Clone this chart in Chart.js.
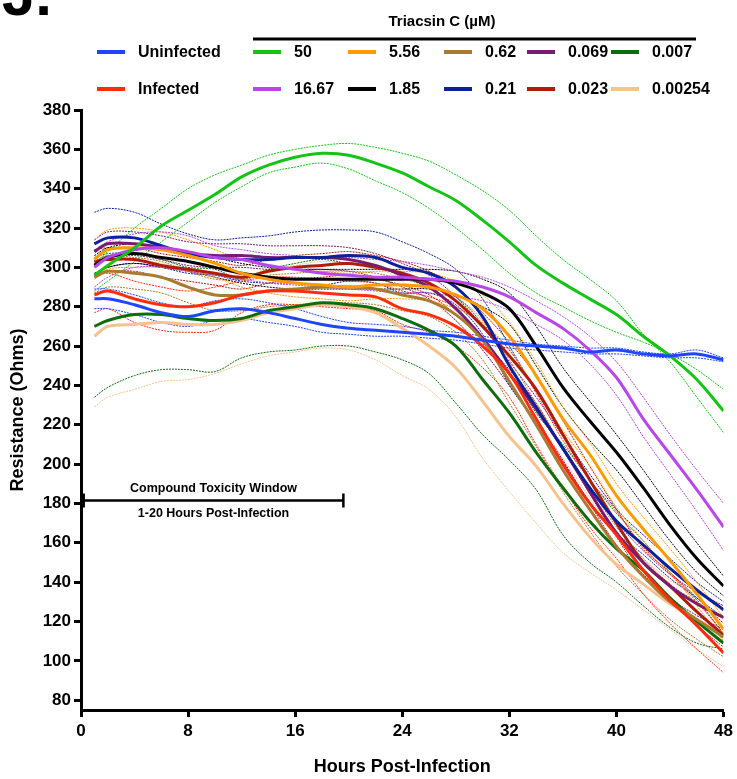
<!DOCTYPE html>
<html><head><meta charset="utf-8">
<script src="https://cdn.jsdelivr.net/npm/chart.js@4/dist/chart.umd.min.js"></script>
<style>html,body{margin:0;padding:0;background:#fff;}#wrap{position:relative;width:737px;height:779px;}</style>
</head><body><div id="wrap"><canvas id="c" width="737" height="779"></canvas></div>
<script>
const hours = [1,2,4,6,8,10,12,14,16,18,20,22,24,26,28,30,32,34,36,38,40,42,44,46,48];
const xTicks = [0,8,16,24,32,40,48];
const yTicks = [80,100,120,140,160,180,200,220,240,260,280,300,320,340,360,380];
const conditionLabels = ['Uninfected','Infected'];
const concentrationLabels = ['50','16.67','5.56','1.85','0.62','0.21','0.069','0.023','0.007','0.00254'];
const legendTitle = 'Triacsin C (µM)';
const toxWindow = [0.2, 19.6];
const toxLevel = 181.5;

const uninfMean = [284,284,281,277,275,278,279,277,274,271,269,268,267,266,265,263,261,260,259,257,258,256,255,256,253];
const uninfHi   = [289,289,286,282,280,283,284,282,279,275,272,271,270,268,267,265,263,261,260,259,259,257,256,258,254];
const uninfLo   = [279,279,276,272,270,273,274,272,270,267,266,265,265,264,263,261,259,258,257,256,256,255,254,254,252];

const infMean = [286,288,284,281,280,282,286,288,288,287,286,285,279,276,270,260,246,223,200,180,164,146,131,118,104];
const infHi   = [295,297,293,290,288,290,293,295,295,294,293,292,288,285,280,271,258,236,212,192,176,158,144,130,114];
const infLo   = [277,279,272,268,267,268,277,281,281,280,279,278,271,267,260,249,234,210,188,168,152,134,119,106,94];

const c50Mean = [296,301,310,321,329,337,346,352,356,358,357,353,348,341,334,324,313,301,292,284,276,265,255,243,227];
const c50Hi   = [302,308,320,330,340,347,352,357,360,362,363,361,358,354,347,339,329,316,304,294,283,266,252,234,216];
const c50Lo   = [288,293,303,313,323,333,341,348,351,353,350,344,338,330,320,309,297,287,280,273,267,262,256,248,238];

const c1667Mean = [300,305,309,310,308,305,304,301,299,297,296,295,295,294,293,290,285,277,269,258,244,223,205,187,168];
const c1667Hi   = [308,313,317,318,316,311,309,307,306,305,305,304,303,301,298,295,290,283,275,265,252,234,215,197,180];
const c1667Lo   = [290,295,300,300,298,296,294,292,291,290,289,288,287,287,285,283,278,271,263,251,235,214,195,176,156];

const c556Mean = [304,309,310,309,306,302,297,294,292,291,290,291,291,290,286,279,265,245,223,205,184,167,151,134,116];
const c556Hi   = [314,319,320,318,314,309,304,301,299,298,297,298,298,297,293,286,272,252,229,211,190,173,157,140,122];
const c556Lo   = [294,299,300,300,298,295,290,287,285,284,283,284,284,283,279,272,258,238,217,199,178,161,145,128,110];

const c185Mean = [301,305,307,305,303,300,297,295,294,294,294,294,294,294,292,287,279,260,239,222,206,188,169,152,138];
const c185Hi   = [306,310,312,310,308,305,302,300,299,299,299,299,299,299,298,294,287,270,249,232,215,197,178,160,143];
const c185Lo   = [296,300,302,300,298,295,292,290,289,289,289,289,289,289,286,280,271,250,229,212,197,179,161,145,133];

const c062Mean = [295,298,297,295,290,286,286,288,289,290,290,289,286,283,276,263,242,220,197,177,158,143,130,121,112];
const c062Hi   = [303,306,305,303,298,294,294,296,297,298,298,297,294,291,285,273,253,231,208,188,168,152,139,130,122];
const c062Lo   = [287,290,289,287,282,278,278,280,281,282,282,281,278,275,267,253,231,209,186,166,148,134,121,111,102];

const c021Mean = [312,315,315,311,307,305,304,304,305,305,306,305,300,297,290,275,250,229,208,188,171,159,147,136,126];
const c021Hi   = [328,330,328,322,317,314,315,316,318,319,319,318,313,307,299,284,260,237,215,195,177,164,152,140,130];
const c021Lo   = [297,300,302,300,297,296,293,292,292,291,293,292,287,287,281,266,240,221,201,181,165,154,142,132,122];

const c0069Mean = [308,312,312,310,307,306,306,305,305,305,304,301,296,290,279,264,246,228,208,186,165,150,138,129,122];
const c0069Hi   = [314,318,318,316,313,312,312,311,311,311,310,307,302,296,285,270,252,234,214,192,171,156,144,135,128];
const c0069Lo   = [302,306,306,304,301,300,300,299,299,299,298,295,290,284,273,258,240,222,202,180,159,144,132,123,116];

const c0023Mean = [303,304,304,301,299,297,295,298,300,301,302,300,297,292,283,270,255,238,215,192,170,150,138,125,113];
const c0023Hi   = [309,310,310,307,305,303,301,304,306,307,308,306,303,298,290,277,262,245,222,199,177,157,145,132,119];
const c0023Lo   = [297,298,298,295,293,291,289,292,294,295,296,294,291,286,276,263,248,231,208,185,163,143,131,118,107];

const c0007Mean = [270,273,276,276,274,273,274,278,280,282,281,279,274,268,260,243,226,206,188,171,157,146,132,120,109];
const c0007Hi   = [305,307,307,304,300,299,294,299,302,304,302,301,295,290,285,271,250,226,210,192,175,161,145,131,114];
const c0007Lo   = [234,239,245,248,248,247,254,257,258,260,260,257,253,246,231,215,202,187,164,150,140,128,117,109,106];

const c00254Mean = [265,270,271,272,271,271,273,277,279,281,280,277,269,260,249,232,214,199,180,163,149,139,129,121,114];
const c00254Hi   = [301,305,304,302,299,296,295,299,301,303,302,300,293,283,273,258,240,223,203,183,164,152,141,134,128];
const c00254Lo   = [229,234,238,242,243,246,251,255,257,259,258,253,245,238,224,203,186,170,155,145,136,126,116,106,97];

const series = [
  {label:conditionLabels[0], color:'#1f45ff', mean:uninfMean, hi:uninfHi, lo:uninfLo},
  {label:concentrationLabels[0], color:'#14c414', mean:c50Mean, hi:c50Hi, lo:c50Lo},
  {label:conditionLabels[1], color:'#ff2d0d', mean:infMean, hi:infHi, lo:infLo},
  {label:concentrationLabels[1], color:'#b946e8', mean:c1667Mean, hi:c1667Hi, lo:c1667Lo},
  {label:concentrationLabels[2], color:'#ff9a00', mean:c556Mean, hi:c556Hi, lo:c556Lo},
  {label:concentrationLabels[3], color:'#000000', mean:c185Mean, hi:c185Hi, lo:c185Lo},
  {label:concentrationLabels[4], color:'#a87b30', mean:c062Mean, hi:c062Hi, lo:c062Lo},
  {label:concentrationLabels[5], color:'#0b2199', mean:c021Mean, hi:c021Hi, lo:c021Lo},
  {label:concentrationLabels[6], color:'#7a1b72', mean:c0069Mean, hi:c0069Hi, lo:c0069Lo},
  {label:concentrationLabels[7], color:'#b01c0c', mean:c0023Mean, hi:c0023Hi, lo:c0023Lo},
  {label:concentrationLabels[8], color:'#0d6d0d', mean:c0007Mean, hi:c0007Hi, lo:c0007Lo},
  {label:concentrationLabels[9], color:'#f6c38f', mean:c00254Mean, hi:c00254Hi, lo:c00254Lo}
];

const pts = arr => hours.map((h,i)=>({x:h, y:arr[i]}));
const datasets = [];
series.forEach(s => {
  datasets.push({label:s.label, data:pts(s.mean), borderColor:s.color, borderWidth:3, pointRadius:0, tension:0.35, order:0, fill:false, borderJoinStyle:'round'});
});
series.forEach(s => {
  ['hi','lo'].forEach(k => datasets.push({label:s.label+' '+k, data:pts(s[k]), borderColor:s.color, borderWidth:1, borderDash:[2,1], pointRadius:0, tension:0.35, order:1, fill:false}));
});

const FONT = '"Liberation Sans", Arial, Helvetica, sans-serif';

const legendPlugin = {
  id:'customLegend',
  afterDraw(chart){
    const ctx = chart.ctx;
    ctx.save();
    ctx.fillStyle = '#000';
    ctx.font = 'bold 60px ' + FONT;
    ctx.textAlign = 'left';
    ctx.textBaseline = 'alphabetic';
    ctx.fillText('J.', 2, 15);

    ctx.font = 'bold 15px ' + FONT;
    ctx.textAlign = 'center';
    ctx.textBaseline = 'middle';
    ctx.fillText(legendTitle, 442, 22);
    ctx.strokeStyle = '#000';
    ctx.lineWidth = 3;
    ctx.beginPath(); ctx.moveTo(253, 39); ctx.lineTo(696, 39); ctx.stroke();

    const rowsY = [52, 89];
    const colX = [253, 348, 444, 527, 611];
    const byLabel = {};
    series.forEach(s => byLabel[s.label] = s.color);
    const drawItem = (x, y, label) => {
      ctx.strokeStyle = byLabel[label];
      ctx.lineWidth = 4;
      ctx.beginPath(); ctx.moveTo(x, y); ctx.lineTo(x + 28, y); ctx.stroke();
      ctx.fillStyle = '#000';
      ctx.font = 'bold 16px ' + FONT;
      ctx.textAlign = 'left';
      ctx.textBaseline = 'middle';
      ctx.fillText(label, x + 41, y + 1);
    };
    conditionLabels.forEach((l, i) => drawItem(97, rowsY[i], l));
    concentrationLabels.forEach((l, i) => drawItem(colX[Math.floor(i/2)], rowsY[i%2], l));
    ctx.restore();
  }
};

const toxPlugin = {
  id:'toxWindow',
  afterDatasetsDraw(chart){
    const ctx = chart.ctx, xs = chart.scales.x, ys = chart.scales.y;
    const x1 = xs.getPixelForValue(toxWindow[0]);
    const x2 = xs.getPixelForValue(toxWindow[1]);
    const y = ys.getPixelForValue(toxLevel);
    ctx.save();
    ctx.strokeStyle = '#000';
    ctx.lineWidth = 2.5;
    ctx.beginPath();
    ctx.moveTo(x1, y); ctx.lineTo(x2, y);
    ctx.moveTo(x1, y - 7); ctx.lineTo(x1, y + 7);
    ctx.moveTo(x2, y - 7); ctx.lineTo(x2, y + 7);
    ctx.stroke();
    ctx.fillStyle = '#000';
    ctx.font = 'bold 12.5px ' + FONT;
    ctx.textAlign = 'center';
    ctx.textBaseline = 'middle';
    const cx = (x1 + x2) / 2;
    ctx.fillText('Compound Toxicity Window', cx, y - 12);
    ctx.fillText('1-20 Hours Post-Infection', cx, y + 13);
    ctx.restore();
  }
};

const axisCommon = {
  grid:{drawOnChartArea:false, drawTicks:true, tickLength:7, tickWidth:3, tickColor:'#000'},
  border:{display:true, width:3, color:'#000'}
};

new Chart(document.getElementById('c'), {
  type:'line',
  data:{datasets},
  options:{
    responsive:false,
    animation:false,
    devicePixelRatio:1,
    layout:{padding:{top:110, right:11, left:0, bottom:0}},
    plugins:{legend:{display:false}, tooltip:{enabled:false}},
    scales:{
      x:{
        type:'linear', min:0, max:48,
        afterBuildTicks: s => { s.ticks = xTicks.map(v => ({value:v})); },
        ticks:{color:'#000', font:{family:FONT, size:17, weight:'bold'}, padding:4, maxRotation:0, autoSkip:false},
        ...axisCommon,
        title:{display:true, text:'Hours Post-Infection', color:'#000', font:{family:FONT, size:18, weight:'bold'}, padding:{top:0, bottom:1}},
        afterFit: s => { s.height = 69; }
      },
      y:{
        type:'linear', min:75, max:380,
        afterBuildTicks: s => { s.ticks = yTicks.map(v => ({value:v})); },
        ticks:{color:'#000', font:{family:FONT, size:17, weight:'bold'}, padding:3, autoSkip:false},
        ...axisCommon,
        title:{display:true, text:'Resistance (Ohms)', color:'#000', font:{family:FONT, size:18, weight:'bold'}, padding:{top:7, bottom:0}},
        afterFit: s => { s.width = 81; }
      }
    }
  },
  plugins:[toxPlugin, legendPlugin]
});
</script>
</body></html>
